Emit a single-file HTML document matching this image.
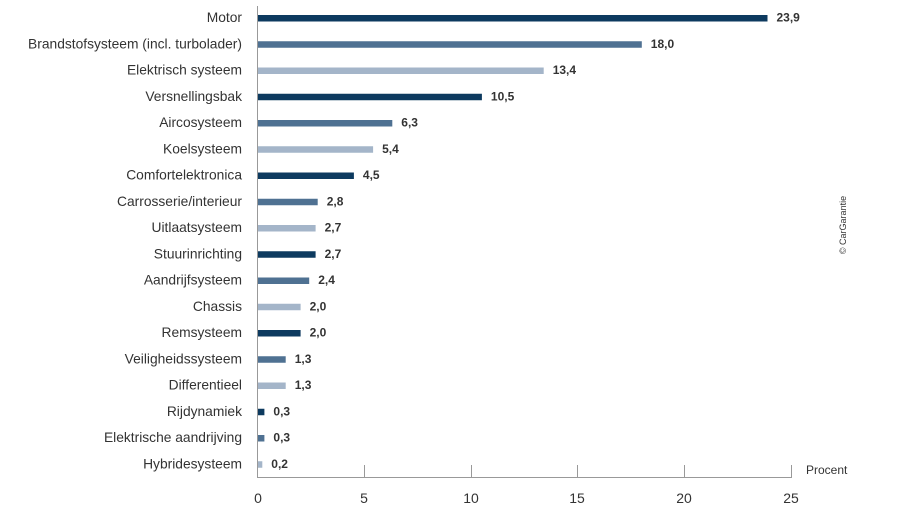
<!DOCTYPE html>
<html><head><meta charset="utf-8"><style>body{margin:0;background:#fff}svg{display:block}</style></head><body>
<svg width="900" height="507" xmlns="http://www.w3.org/2000/svg" font-family="Liberation Sans, sans-serif">
<g font-size="13.8" fill="#333" text-anchor="end">
<text x="242" y="22">Motor</text>
<text x="242" y="48.25">Brandstofsysteem (incl. turbolader)</text>
<text x="242" y="74.5">Elektrisch systeem</text>
<text x="242" y="100.75">Versnellingsbak</text>
<text x="242" y="127">Aircosysteem</text>
<text x="242" y="153.25">Koelsysteem</text>
<text x="242" y="179.5">Comfortelektronica</text>
<text x="242" y="205.75">Carrosserie/interieur</text>
<text x="242" y="232">Uitlaatsysteem</text>
<text x="242" y="258.25">Stuurinrichting</text>
<text x="242" y="284.5">Aandrijfsysteem</text>
<text x="242" y="310.75">Chassis</text>
<text x="242" y="337">Remsysteem</text>
<text x="242" y="363.25">Veiligheidssysteem</text>
<text x="242" y="389.5">Differentieel</text>
<text x="242" y="415.75">Rijdynamiek</text>
<text x="242" y="442">Elektrische aandrijving</text>
<text x="242" y="468.25">Hybridesysteem</text>
</g>
<g>
<rect x="258" y="15" width="509.5" height="6.5" fill="#0d3a5f"/>
<rect x="258" y="41.25" width="383.8" height="6.5" fill="#4f7192"/>
<rect x="258" y="67.5" width="285.7" height="6.5" fill="#a4b5c9"/>
<rect x="258" y="93.75" width="223.9" height="6.5" fill="#0d3a5f"/>
<rect x="258" y="120" width="134.3" height="6.5" fill="#4f7192"/>
<rect x="258" y="146.25" width="115.1" height="6.5" fill="#a4b5c9"/>
<rect x="258" y="172.5" width="95.9" height="6.5" fill="#0d3a5f"/>
<rect x="258" y="198.75" width="59.7" height="6.5" fill="#4f7192"/>
<rect x="258" y="225" width="57.6" height="6.5" fill="#a4b5c9"/>
<rect x="258" y="251.25" width="57.6" height="6.5" fill="#0d3a5f"/>
<rect x="258" y="277.5" width="51.2" height="6.5" fill="#4f7192"/>
<rect x="258" y="303.75" width="42.6" height="6.5" fill="#a4b5c9"/>
<rect x="258" y="330" width="42.6" height="6.5" fill="#0d3a5f"/>
<rect x="258" y="356.25" width="27.7" height="6.5" fill="#4f7192"/>
<rect x="258" y="382.5" width="27.7" height="6.5" fill="#a4b5c9"/>
<rect x="258" y="408.75" width="6.4" height="6.5" fill="#0d3a5f"/>
<rect x="258" y="435" width="6.4" height="6.5" fill="#4f7192"/>
<rect x="258" y="461.25" width="4.3" height="6.5" fill="#a4b5c9"/>
</g>
<g font-size="12" font-weight="bold" fill="#333">
<text x="776.5" y="21.5">23,9</text>
<text x="650.8" y="47.75">18,0</text>
<text x="552.7" y="74">13,4</text>
<text x="490.9" y="100.25">10,5</text>
<text x="401.3" y="126.5">6,3</text>
<text x="382.1" y="152.75">5,4</text>
<text x="362.9" y="179">4,5</text>
<text x="326.7" y="205.25">2,8</text>
<text x="324.6" y="231.5">2,7</text>
<text x="324.6" y="257.75">2,7</text>
<text x="318.2" y="284">2,4</text>
<text x="309.6" y="310.25">2,0</text>
<text x="309.6" y="336.5">2,0</text>
<text x="294.7" y="362.75">1,3</text>
<text x="294.7" y="389">1,3</text>
<text x="273.4" y="415.25">0,3</text>
<text x="273.4" y="441.5">0,3</text>
<text x="271.3" y="467.75">0,2</text>
</g>
<line x1="257.5" y1="477" x2="257.5" y2="6" stroke="#999" stroke-width="1"/>
<line x1="257" y1="477.5" x2="792" y2="477.5" stroke="#999" stroke-width="1"/>
<g stroke="#999"><line x1="364.5" y1="465" x2="364.5" y2="477"/><line x1="471.5" y1="465" x2="471.5" y2="477"/><line x1="577.5" y1="465" x2="577.5" y2="477"/><line x1="684.5" y1="465" x2="684.5" y2="477"/><line x1="791.5" y1="465" x2="791.5" y2="477"/></g>
<g font-size="14" fill="#333" text-anchor="middle"><text x="258" y="503">0</text><text x="364" y="503">5</text><text x="471" y="503">10</text><text x="577" y="503">15</text><text x="684" y="503">20</text><text x="791" y="503">25</text></g>
<text x="806" y="474" font-size="12" fill="#333">Procent</text>
<text transform="translate(846,225) rotate(-90)" font-size="9" fill="#333" text-anchor="middle">© CarGarantie</text>
</svg>
</body></html>
